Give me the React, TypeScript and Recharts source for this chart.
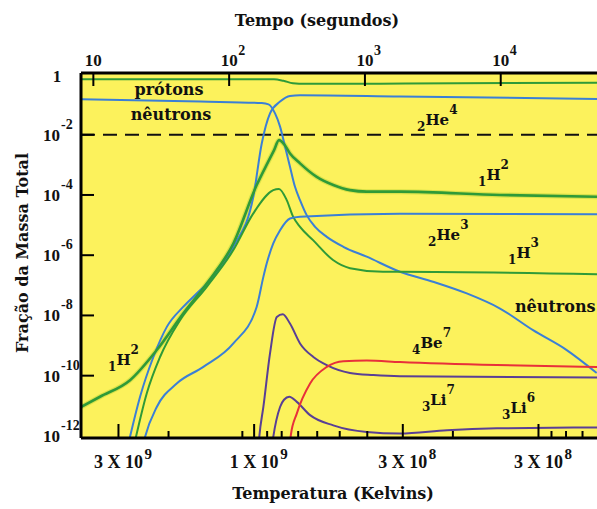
import {
  CartesianGrid,
  Line,
  LineChart,
  ReferenceDot,
  ReferenceLine,
  XAxis,
  YAxis,
} from "recharts";

const SERIF = "'DejaVu Serif', serif";
const NUM = "'Liberation Serif', 'Times New Roman', serif";

const YELLOW = "#fcf25c";
const GREEN = "#2f9a38";
const BLUE = "#3b7fd6";
const PURPLE = "#593f95";
const RED = "#e8303a";

// x = log10(tempo em s), y = log10(fração da massa total)
const timeDomain = [0.909, 4.709];
const fracDomain = [-12.07, 0.05];
const timeTicks = [1, 2, 3, 4];
const fracTicks = [0, -2, -4, -6, -8, -10, -12];

const tempMajor = [3e9, 1e9, 3e8, 1e8];
const tempMantissa = ["3 X 10", "1 X 10", "3 X 10", "3 X 10"];
const tempExponent = ["9", "9", "8", "8"];
const tempMinor = [2e9, 1.1e9, 9e8, 8e8, 7e8, 6e8, 5e8, 4e8, 2e8, 9e7, 8e7, 7e7];

// escala de temperatura do eixo inferior, relacionada ao tempo (t ~ T^-2)
const tempToLogTime = (T: number) => 21.03 - 2.094 * Math.log10(T);
const tempTickValues = [...tempMajor, ...tempMinor].map(tempToLogTime);

type Pt = { x: number; y: number };
const pts = (rows: number[][]): Pt[] => rows.map(([x, y]) => ({ x, y }));

const protons = pts([
  [0.909, -0.16], [2.33, -0.16], [2.4, -0.21], [2.47, -0.29], [2.56, -0.31],
  [3.3, -0.3], [4.709, -0.27],
]);

const neutrons = pts([
  [0.909, -0.82], [1.79, -0.9], [2.24, -0.95], [2.29, -0.99], [2.338, -1.29],
  [2.375, -1.73], [2.412, -2.4], [2.448, -3.06], [2.485, -3.73], [2.522, -4.17],
  [2.571, -4.67], [2.633, -5.06], [2.719, -5.39], [2.841, -5.72], [3.013, -6.05],
  [3.258, -6.55], [3.501, -6.88], [3.75, -7.27], [3.995, -7.77], [4.238, -8.49],
  [4.486, -9.15], [4.707, -9.91],
]);

const helium4 = pts([
  [1.252, -12.38], [1.27, -12.03], [1.344, -10.7], [1.442, -9.38], [1.541, -8.38],
  [1.663, -7.71], [1.761, -7.27], [1.884, -6.72], [2.031, -5.72], [2.178, -4.06],
  [2.24, -2.29], [2.301, -1.29], [2.375, -0.9], [2.448, -0.71], [2.522, -0.69],
  [3.258, -0.73], [4.709, -0.81],
]);

const deuterium = pts([
  [0.909, -11.04], [1.049, -10.7], [1.27, -10.15], [1.467, -9.15], [1.663, -7.93],
  [1.835, -6.94], [2.031, -5.61], [2.203, -3.67], [2.286, -2.91], [2.331, -2.51],
  [2.367, -2.18], [2.404, -2.31], [2.448, -2.62], [2.522, -2.95], [2.645, -3.4],
  [2.767, -3.67], [2.89, -3.84], [3.013, -3.89], [3.258, -3.89], [3.995, -4.0],
  [4.709, -4.06],
]);

const tritium = pts([
  [1.3, -12.31], [1.314, -12.03], [1.393, -10.59], [1.491, -9.38], [1.638, -8.16],
  [1.835, -7.05], [2.031, -5.83], [2.178, -4.61], [2.325, -3.84], [2.367, -3.8],
  [2.424, -4.17], [2.471, -4.72], [2.522, -5.06], [2.618, -5.5], [2.765, -6.16],
  [2.89, -6.43], [3.133, -6.55], [3.258, -6.55], [4.709, -6.63],
]);

const helium3 = pts([
  [1.366, -12.31], [1.381, -12.03], [1.467, -11.04], [1.614, -10.26], [1.81, -9.71],
  [2.031, -8.93], [2.203, -7.71], [2.252, -6.72], [2.277, -6.27], [2.325, -5.61],
  [2.375, -5.17], [2.448, -4.78], [2.522, -4.72], [3.258, -4.62], [4.709, -4.64],
]);

const beryllium7 = pts([
  [2.445, -12.31], [2.454, -11.98], [2.498, -11.26], [2.596, -10.26], [2.719, -9.71],
  [2.841, -9.52], [3.013, -9.5], [3.258, -9.55], [3.973, -9.65], [4.709, -9.71],
]);

const lithium7 = pts([
  [2.217, -12.31], [2.222, -12.03], [2.252, -11.04], [2.301, -9.26], [2.351, -8.05],
  [2.395, -7.96], [2.448, -8.27], [2.522, -8.93], [2.62, -9.38], [2.719, -9.65],
  [2.89, -9.91], [3.062, -9.98], [3.258, -10.02], [4.709, -10.06],
]);

const lithium6 = pts([
  [2.316, -12.31], [2.325, -12.03], [2.375, -11.04], [2.404, -10.8], [2.443, -10.7],
  [2.498, -10.87], [2.596, -11.31], [2.767, -11.65], [3.013, -11.87], [3.258, -11.92],
  [3.605, -11.81], [3.973, -11.75], [4.709, -11.72],
]);

const series = [
  { key: "protons", data: protons, color: GREEN, width: 2 },
  { key: "neutrons", data: neutrons, color: BLUE, width: 2 },
  { key: "he4", data: helium4, color: BLUE, width: 2 },
  { key: "h3", data: tritium, color: GREEN, width: 2 },
  { key: "he3", data: helium3, color: BLUE, width: 2 },
  { key: "h2", data: deuterium, color: GREEN, width: 2.6 },
  { key: "li7", data: lithium7, color: PURPLE, width: 2 },
  { key: "li6", data: lithium6, color: PURPLE, width: 2 },
  { key: "be7", data: beryllium7, color: RED, width: 2 },
];

const wordLabels = [
  { x: 1.557, y: -0.68, text: "prótons", anchor: "middle" },
  { x: 1.572, y: -1.51, text: "nêutrons", anchor: "middle" },
  { x: 4.105, y: -7.89, text: "nêutrons", anchor: "start" },
];

const isotopeLabels = [
  { x: 3.384, y: -1.68, z: "2", sym: "He", a: "4" },
  { x: 3.833, y: -3.5, z: "1", sym: "H", a: "2" },
  { x: 3.465, y: -5.5, z: "2", sym: "He", a: "3" },
  { x: 4.054, y: -6.1, z: "1", sym: "H", a: "3" },
  { x: 3.347, y: -9.09, z: "4", sym: "Be", a: "7" },
  { x: 3.42, y: -10.98, z: "3", sym: "Li", a: "7" },
  { x: 4.01, y: -11.25, z: "3", sym: "Li", a: "6" },
  { x: 1.108, y: -9.65, z: "1", sym: "H", a: "2" },
];

const TopTick = ({ x, y, payload }: any) => {
  const e = payload.value;
  return (
    <g>
      <line x1={x} x2={x} y1={y} y2={y + 13} stroke="#000" strokeWidth={2} />
      <text x={x} y={y - 7} textAnchor="middle" fontFamily={NUM} fontWeight={700} fontSize={17} fill="#111">
        10
      </text>
      {e > 1 && (
        <text x={x + 9} y={y - 18} fontFamily={NUM} fontWeight={700} fontSize={14} fill="#111">
          {e}
        </text>
      )}
    </g>
  );
};

const LeftTick = ({ x, y, payload }: any) => {
  const v = payload.value;
  if (v === 0) {
    return (
      <text x={x - 24} y={y + 7} textAnchor="middle" fontFamily={NUM} fontWeight={700} fontSize={17} fill="#111">
        1
      </text>
    );
  }
  return (
    <g>
      {v > -12 && <line x1={x} x2={x + 13} y1={y} y2={y} stroke="#000" strokeWidth={2} />}
      <text x={x - 21} y={y + 6} textAnchor="end" fontFamily={NUM} fontWeight={700} fontSize={17} fill="#111">
        10
      </text>
      <text x={x - 20} y={y - 6} fontFamily={NUM} fontWeight={700} fontSize={14} fill="#111">
        {`-${Math.abs(v)}`}
      </text>
    </g>
  );
};

const BottomTick = ({ x, y, payload }: any) => {
  const i = tempMajor.findIndex((T) => Math.abs(tempToLogTime(T) - payload.value) < 1e-6);
  const major = i >= 0;
  return (
    <g>
      <line x1={x} x2={x} y1={y} y2={y - (major ? 14 : 7)} stroke="#000" strokeWidth={2} />
      {major && (
        <>
          <text x={x} y={y + 30} textAnchor="middle" fontFamily={NUM} fontWeight={700} fontSize={18} fill="#111">
            {tempMantissa[i]}
          </text>
          <text x={x + 26} y={y + 21} fontFamily={NUM} fontWeight={700} fontSize={15} fill="#111">
            {tempExponent[i]}
          </text>
        </>
      )}
    </g>
  );
};

const IsoLabel = ({ cx, cy, z, sym, a }: any) => (
  <text x={cx} y={cy} fontFamily={SERIF} fontWeight={700} fontSize={15} fill="#111">
    <tspan fontSize={12} dy={6}>{z}</tspan>
    <tspan dy={-6}>{sym}</tspan>
    <tspan fontSize={12} dy={-11}>{a}</tspan>
  </text>
);

export default function App() {
  return (
    <div style={{ position: "absolute", left: 0, top: 0, width: 597, height: 509, background: "#fff" }}>
      <LineChart width={597} height={509} margin={{ top: 0, right: 0, bottom: 0, left: 0 }}>
        <CartesianGrid xAxisId="time" fill={YELLOW} horizontal={false} vertical={false} stroke="none" />
        <XAxis
          xAxisId="time"
          orientation="top"
          type="number"
          dataKey="x"
          domain={timeDomain}
          allowDataOverflow
          ticks={timeTicks}
          interval={0}
          height={73}
          tickSize={0}
          tickMargin={0}
          tickLine={false}
          axisLine={{ stroke: "#000", strokeWidth: 3 }}
          tick={<TopTick />}
        />
        <XAxis
          xAxisId="temp"
          orientation="bottom"
          type="number"
          dataKey="x"
          domain={timeDomain}
          allowDataOverflow
          ticks={tempTickValues}
          interval={0}
          height={71}
          tickSize={0}
          tickMargin={0}
          tickLine={false}
          axisLine={{ stroke: "#000", strokeWidth: 3 }}
          tick={<BottomTick />}
        />
        <YAxis
          type="number"
          domain={fracDomain}
          allowDataOverflow
          ticks={fracTicks}
          interval={0}
          width={81}
          tickSize={0}
          tickMargin={0}
          tickLine={false}
          axisLine={{ stroke: "#000", strokeWidth: 3 }}
          tick={<LeftTick />}
        />
        <ReferenceLine xAxisId="time" y={-2} stroke="#111" strokeWidth={2} strokeDasharray="14 8" />
        <Line
          xAxisId="time"
          data={deuterium}
          dataKey="y"
          type="monotone"
          stroke="#d9e24a"
          strokeWidth={5}
          dot={false}
          activeDot={false}
          isAnimationActive={false}
        />
        {series.map((s) => (
          <Line
            key={s.key}
            xAxisId="time"
            data={s.data}
            dataKey="y"
            type="monotone"
            stroke={s.color}
            strokeWidth={s.width}
            dot={false}
            activeDot={false}
            isAnimationActive={false}
          />
        ))}
        {wordLabels.map((l, i) => (
          <ReferenceDot
            key={`w${i}`}
            xAxisId="time"
            x={l.x}
            y={l.y}
            r={0}
            shape={(p: any) => (
              <text x={p.cx} y={p.cy} textAnchor={l.anchor} fontFamily={SERIF} fontWeight={700} fontSize={16} fill="#111">
                {l.text}
              </text>
            )}
          />
        ))}
        {isotopeLabels.map((l, i) => (
          <ReferenceDot
            key={`i${i}`}
            xAxisId="time"
            x={l.x}
            y={l.y}
            r={0}
            shape={(p: any) => <IsoLabel cx={p.cx} cy={p.cy} z={l.z} sym={l.sym} a={l.a} />}
          />
        ))}
      </LineChart>
      <svg width={597} height={509} style={{ position: "absolute", left: 0, top: 0, pointerEvents: "none" }}>
        <text x={317} y={26} textAnchor="middle" fontFamily={SERIF} fontWeight={700} fontSize={16} fill="#111">
          Tempo (segundos)
        </text>
        <text x={333} y={499} textAnchor="middle" fontFamily={SERIF} fontWeight={700} fontSize={16} fill="#111">
          Temperatura (Kelvins)
        </text>
        <text
          transform="translate(28,253) rotate(-90)"
          textAnchor="middle"
          fontFamily={SERIF}
          fontWeight={700}
          fontSize={16}
          fill="#111"
        >
          Fração da Massa Total
        </text>
      </svg>
    </div>
  );
}
